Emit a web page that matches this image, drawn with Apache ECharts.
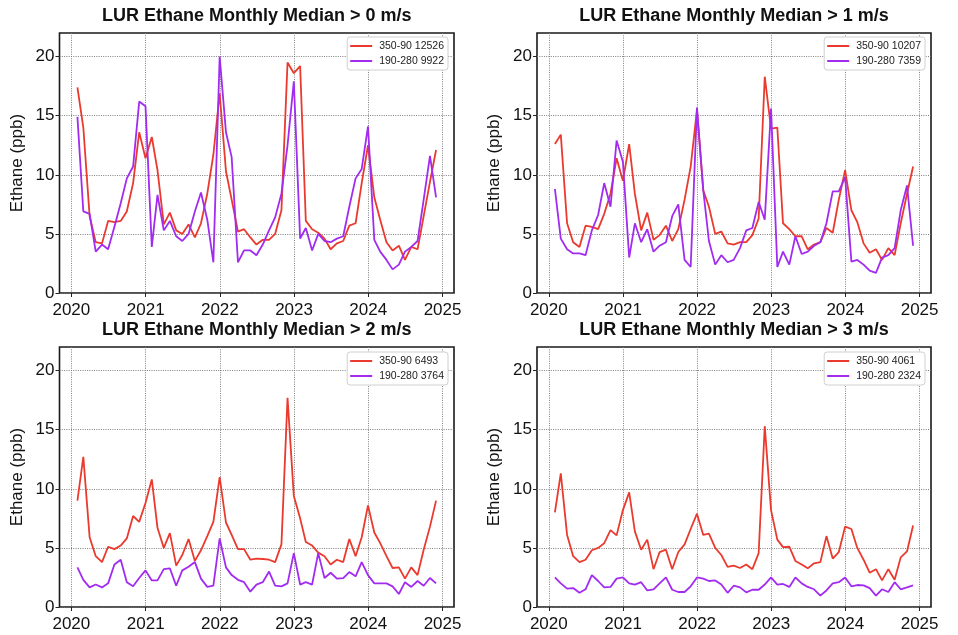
<!DOCTYPE html>
<html>
<head>
<meta charset="utf-8">
<script src="https://cdn.jsdelivr.net/npm/echarts@6/dist/echarts.min.js"></script>
<style>
html,body{margin:0;padding:0;background:#fff;}
#chart{width:958px;height:635px;}
</style>
</head>
<body>
<div id="chart"></div>
<script>
// Month-end dates of the monthly medians
const months = [
 '2020-01-31','2020-02-29','2020-03-31','2020-04-30','2020-05-31','2020-06-30','2020-07-31','2020-08-31','2020-09-30','2020-10-31','2020-11-30','2020-12-31',
 '2021-01-31','2021-02-28','2021-03-31','2021-04-30','2021-05-31','2021-06-30','2021-07-31','2021-08-31','2021-09-30','2021-10-31','2021-11-30','2021-12-31',
 '2022-01-31','2022-02-28','2022-03-31','2022-04-30','2022-05-31','2022-06-30','2022-07-31','2022-08-31','2022-09-30','2022-10-31','2022-11-30','2022-12-31',
 '2023-01-31','2023-02-28','2023-03-31','2023-04-30','2023-05-31','2023-06-30','2023-07-31','2023-08-31','2023-09-30','2023-10-31','2023-11-30','2023-12-31',
 '2024-01-31','2024-02-29','2024-03-31','2024-04-30','2024-05-31','2024-06-30','2024-07-31','2024-08-31','2024-09-30','2024-10-31','2024-11-30'
];

const titles = [
 'LUR Ethane Monthly Median > 0 m/s',
 'LUR Ethane Monthly Median > 1 m/s',
 'LUR Ethane Monthly Median > 2 m/s',
 'LUR Ethane Monthly Median > 3 m/s'
];

const redNames = ['350-90 12526', '350-90 10207', '350-90 6493', '350-90 4061'];
const purpleNames = ['190-280 9922', '190-280 7359', '190-280 3764', '190-280 2324'];

// > 0 m/s
const red0 = [17.4,14.0,6.5,4.3,4.2,6.1,6.0,6.1,6.9,9.3,13.6,11.4,13.2,10.4,5.8,6.8,5.3,5.0,5.8,4.7,5.9,8.4,11.7,16.9,10.3,7.9,5.2,5.4,4.7,4.1,4.5,4.5,5.0,7.0,19.5,18.6,19.2,6.1,5.4,5.1,4.6,3.7,4.2,4.4,5.7,5.9,9.3,12.5,8.1,6.2,4.3,3.6,4.0,2.8,3.9,3.7,6.5,9.4,12.1];
const purple0 = [14.9,6.9,6.7,3.5,4.1,3.7,5.6,7.6,9.7,10.7,16.2,15.8,3.9,8.3,5.3,6.1,4.8,4.4,5.0,6.9,8.5,6.2,2.6,20.0,13.6,11.5,2.6,3.6,3.6,3.2,4.1,5.3,6.4,8.4,12.5,17.9,4.6,5.5,3.6,5.0,4.4,4.3,4.6,4.8,7.3,9.7,10.5,14.1,4.5,3.5,2.8,2.0,2.4,3.5,3.9,4.4,7.9,11.6,8.1];
// > 1 m/s
const red1 = [12.6,13.4,5.9,4.3,3.9,5.7,5.6,5.4,6.7,8.4,11.4,9.5,12.6,8.4,5.3,6.8,4.5,4.9,5.7,4.4,5.4,7.9,10.7,15.5,8.7,7.3,5.0,5.2,4.2,4.1,4.3,4.3,4.9,6.3,18.3,13.9,14.0,5.9,5.4,4.8,4.8,3.7,4.1,4.3,5.5,5.1,7.9,10.4,7.0,6.0,4.2,3.4,3.7,2.8,3.8,3.2,5.9,8.4,10.7];
const purple1 = [8.8,4.6,3.7,3.35,3.35,3.2,5.3,6.6,9.3,7.3,12.9,11.1,3.0,5.9,4.3,5.4,3.5,4.0,4.3,6.5,7.5,2.8,2.2,15.7,8.7,4.4,2.4,3.2,2.6,2.8,3.8,5.3,5.5,7.7,6.2,15.6,2.2,3.5,2.4,4.8,3.3,3.5,4.0,4.3,5.9,8.6,8.6,9.8,2.65,2.8,2.4,1.9,1.7,3.0,3.2,3.8,7.0,9.1,4.0];
// > 2 m/s
const red2 = [9.0,12.7,5.9,4.3,3.8,5.1,4.9,5.2,5.8,7.7,7.2,8.8,10.8,6.7,5.0,6.25,3.5,4.4,5.75,3.9,4.8,6.0,7.2,11.0,7.15,6.1,4.9,4.9,4.0,4.1,4.06,4.0,3.8,5.3,17.7,9.4,7.5,5.5,5.2,4.6,4.3,3.6,4.0,3.8,5.75,4.3,5.9,8.6,6.3,5.4,4.3,3.3,3.35,2.4,3.35,2.7,4.85,6.8,9.0];
const purple2 = [3.35,2.3,1.66,1.9,1.66,2.0,3.6,4.0,2.1,1.75,2.45,3.1,2.25,2.25,3.2,3.27,1.8,3.1,3.4,3.8,2.4,1.7,1.8,5.8,3.35,2.7,2.3,2.1,1.3,1.9,2.1,3.0,1.8,1.75,2.0,4.56,1.9,2.1,1.9,4.56,2.45,2.9,2.4,2.45,2.96,2.6,3.8,2.7,2.0,2.0,2.0,1.75,1.1,2.1,1.7,2.2,1.8,2.45,2.0];
// > 3 m/s
const red3 = [8.0,11.3,6.1,4.3,3.8,4.0,4.8,5.0,5.4,6.5,6.06,8.2,9.7,6.4,4.85,5.7,3.2,4.65,4.85,3.2,4.65,5.3,6.6,7.9,6.1,6.2,5.0,4.4,3.4,3.5,3.3,3.6,3.2,4.56,15.3,8.2,5.7,5.07,5.1,3.9,3.6,3.27,3.7,3.8,6.0,4.1,4.65,6.8,6.6,5.0,4.0,2.9,3.2,2.25,3.2,2.3,4.2,4.7,6.9];
const purple3 = [2.5,2.0,1.55,1.6,1.2,1.5,2.7,2.2,1.66,1.7,2.4,2.5,2.0,1.9,2.1,1.4,1.5,2.0,2.5,1.46,1.27,1.27,1.75,2.5,2.4,2.2,2.25,1.9,1.2,1.8,1.66,1.24,1.46,1.46,1.9,2.5,1.9,1.95,1.7,2.5,2.0,1.7,1.5,0.96,1.4,2.0,2.1,2.5,1.75,1.86,1.83,1.6,0.96,1.5,1.27,2.1,1.5,1.66,1.83];

const redSeries = [red0, red1, red2, red3];
const purpleSeries = [purple0, purple1, purple2, purple3];

const yearTicks = [2020, 2021, 2022, 2023, 2024, 2025];
const yTicks = [0, 5, 10, 15, 20];
const yMax = 22;

// ---- layout / style ----
const FONT = 'Liberation Sans, Arial, sans-serif';
const RED = '#ea3a2e';
const PURPLE = '#a12cf0';
const GRIDLINE = {color: '#707070', width: 0.9, type: [1, 1.3]};
const grids = [
  {left: 59.5, top: 33, width: 394.5, height: 260},
  {left: 537, top: 33, width: 394, height: 260},
  {left: 59.5, top: 347, width: 394.5, height: 260},
  {left: 537, top: 347, width: 394, height: 260}
];
const legendPos = [
  {right: 510, top: 37},
  {right: 33, top: 37},
  {right: 510, top: 352},
  {right: 33, top: 352}
];

const toTs = s => { const [y, m, d] = s.split('-').map(Number); return Date.UTC(y, m - 1, d); };
const monthTs = months.map(toTs);
const xMin = Date.UTC(2019, 10, 3, 18);
const xMax = Date.UTC(2025, 1, 26, 6);
const yearTs = yearTicks.map(y => Date.UTC(y, 0, 1));

const option = {
  animation: false,
  backgroundColor: '#fff',
  title: [], grid: [], xAxis: [], yAxis: [], series: [], legend: []
};

for (let p = 0; p < 4; p++) {
  const g = grids[p];
  option.grid.push({
    left: g.left, top: g.top, width: g.width, height: g.height,
    show: true, borderColor: '#1a1a1a', borderWidth: 1.6, backgroundColor: 'transparent'
  });
  option.title.push({
    text: titles[p],
    left: g.left + g.width / 2,
    top: g.top - 26,
    textAlign: 'center',
    padding: 0,
    textStyle: {fontFamily: FONT, fontSize: 18, fontWeight: 'bold', color: '#111'}
  });
  option.xAxis.push({
    type: 'value', gridIndex: p, min: xMin, max: xMax,
    axisLine: {show: false},
    axisTick: {show: true, length: 4, inside: false, customValues: yearTs, lineStyle: {color: '#222', width: 1}},
    axisLabel: {
      customValues: yearTs, margin: 9, color: '#111', fontFamily: FONT, fontSize: 17,
      formatter: v => String(new Date(v).getUTCFullYear())
    },
    splitLine: {show: true, lineStyle: GRIDLINE}
  });
  option.yAxis.push({
    type: 'value', gridIndex: p, min: 0, max: yMax, interval: 5,
    name: 'Ethane (ppb)', nameLocation: 'middle', nameGap: 34, nameRotate: 90,
    nameTextStyle: {fontFamily: FONT, fontSize: 17, color: '#111'},
    axisLine: {show: false},
    axisTick: {show: true, length: 4, inside: false, customValues: yTicks, lineStyle: {color: '#222', width: 1}},
    axisLabel: {customValues: yTicks, margin: 5, color: '#111', fontFamily: FONT, fontSize: 17},
    splitLine: {show: true, lineStyle: GRIDLINE}
  });
  option.series.push({
    name: redNames[p], type: 'line', xAxisIndex: p, yAxisIndex: p,
    data: monthTs.map((t, i) => [t, redSeries[p][i]]),
    showSymbol: false, symbol: 'none', lineStyle: {color: RED, width: 1.8}, itemStyle: {color: RED}, z: 3
  });
  option.series.push({
    name: purpleNames[p], type: 'line', xAxisIndex: p, yAxisIndex: p,
    data: monthTs.map((t, i) => [t, purpleSeries[p][i]]),
    showSymbol: false, symbol: 'none', lineStyle: {color: PURPLE, width: 1.8}, itemStyle: {color: PURPLE}, z: 4
  });
  option.legend.push({
    data: [redNames[p], purpleNames[p]],
    orient: 'vertical', right: legendPos[p].right, top: legendPos[p].top,
    padding: [3, 4, 3, 3], itemGap: 3, itemWidth: 22, itemHeight: 2,
    icon: 'rect',
    backgroundColor: '#fff', borderColor: '#d0d0d0', borderWidth: 1, borderRadius: 3,
    textStyle: {fontFamily: FONT, fontSize: 10.5, color: '#222', lineHeight: 12, padding: [0, 0, 0, 2]},
    selectedMode: false
  });
}

const chart = echarts.init(document.getElementById('chart'), null, {renderer: 'canvas'});
chart.setOption(option);
</script>
</body>
</html>
